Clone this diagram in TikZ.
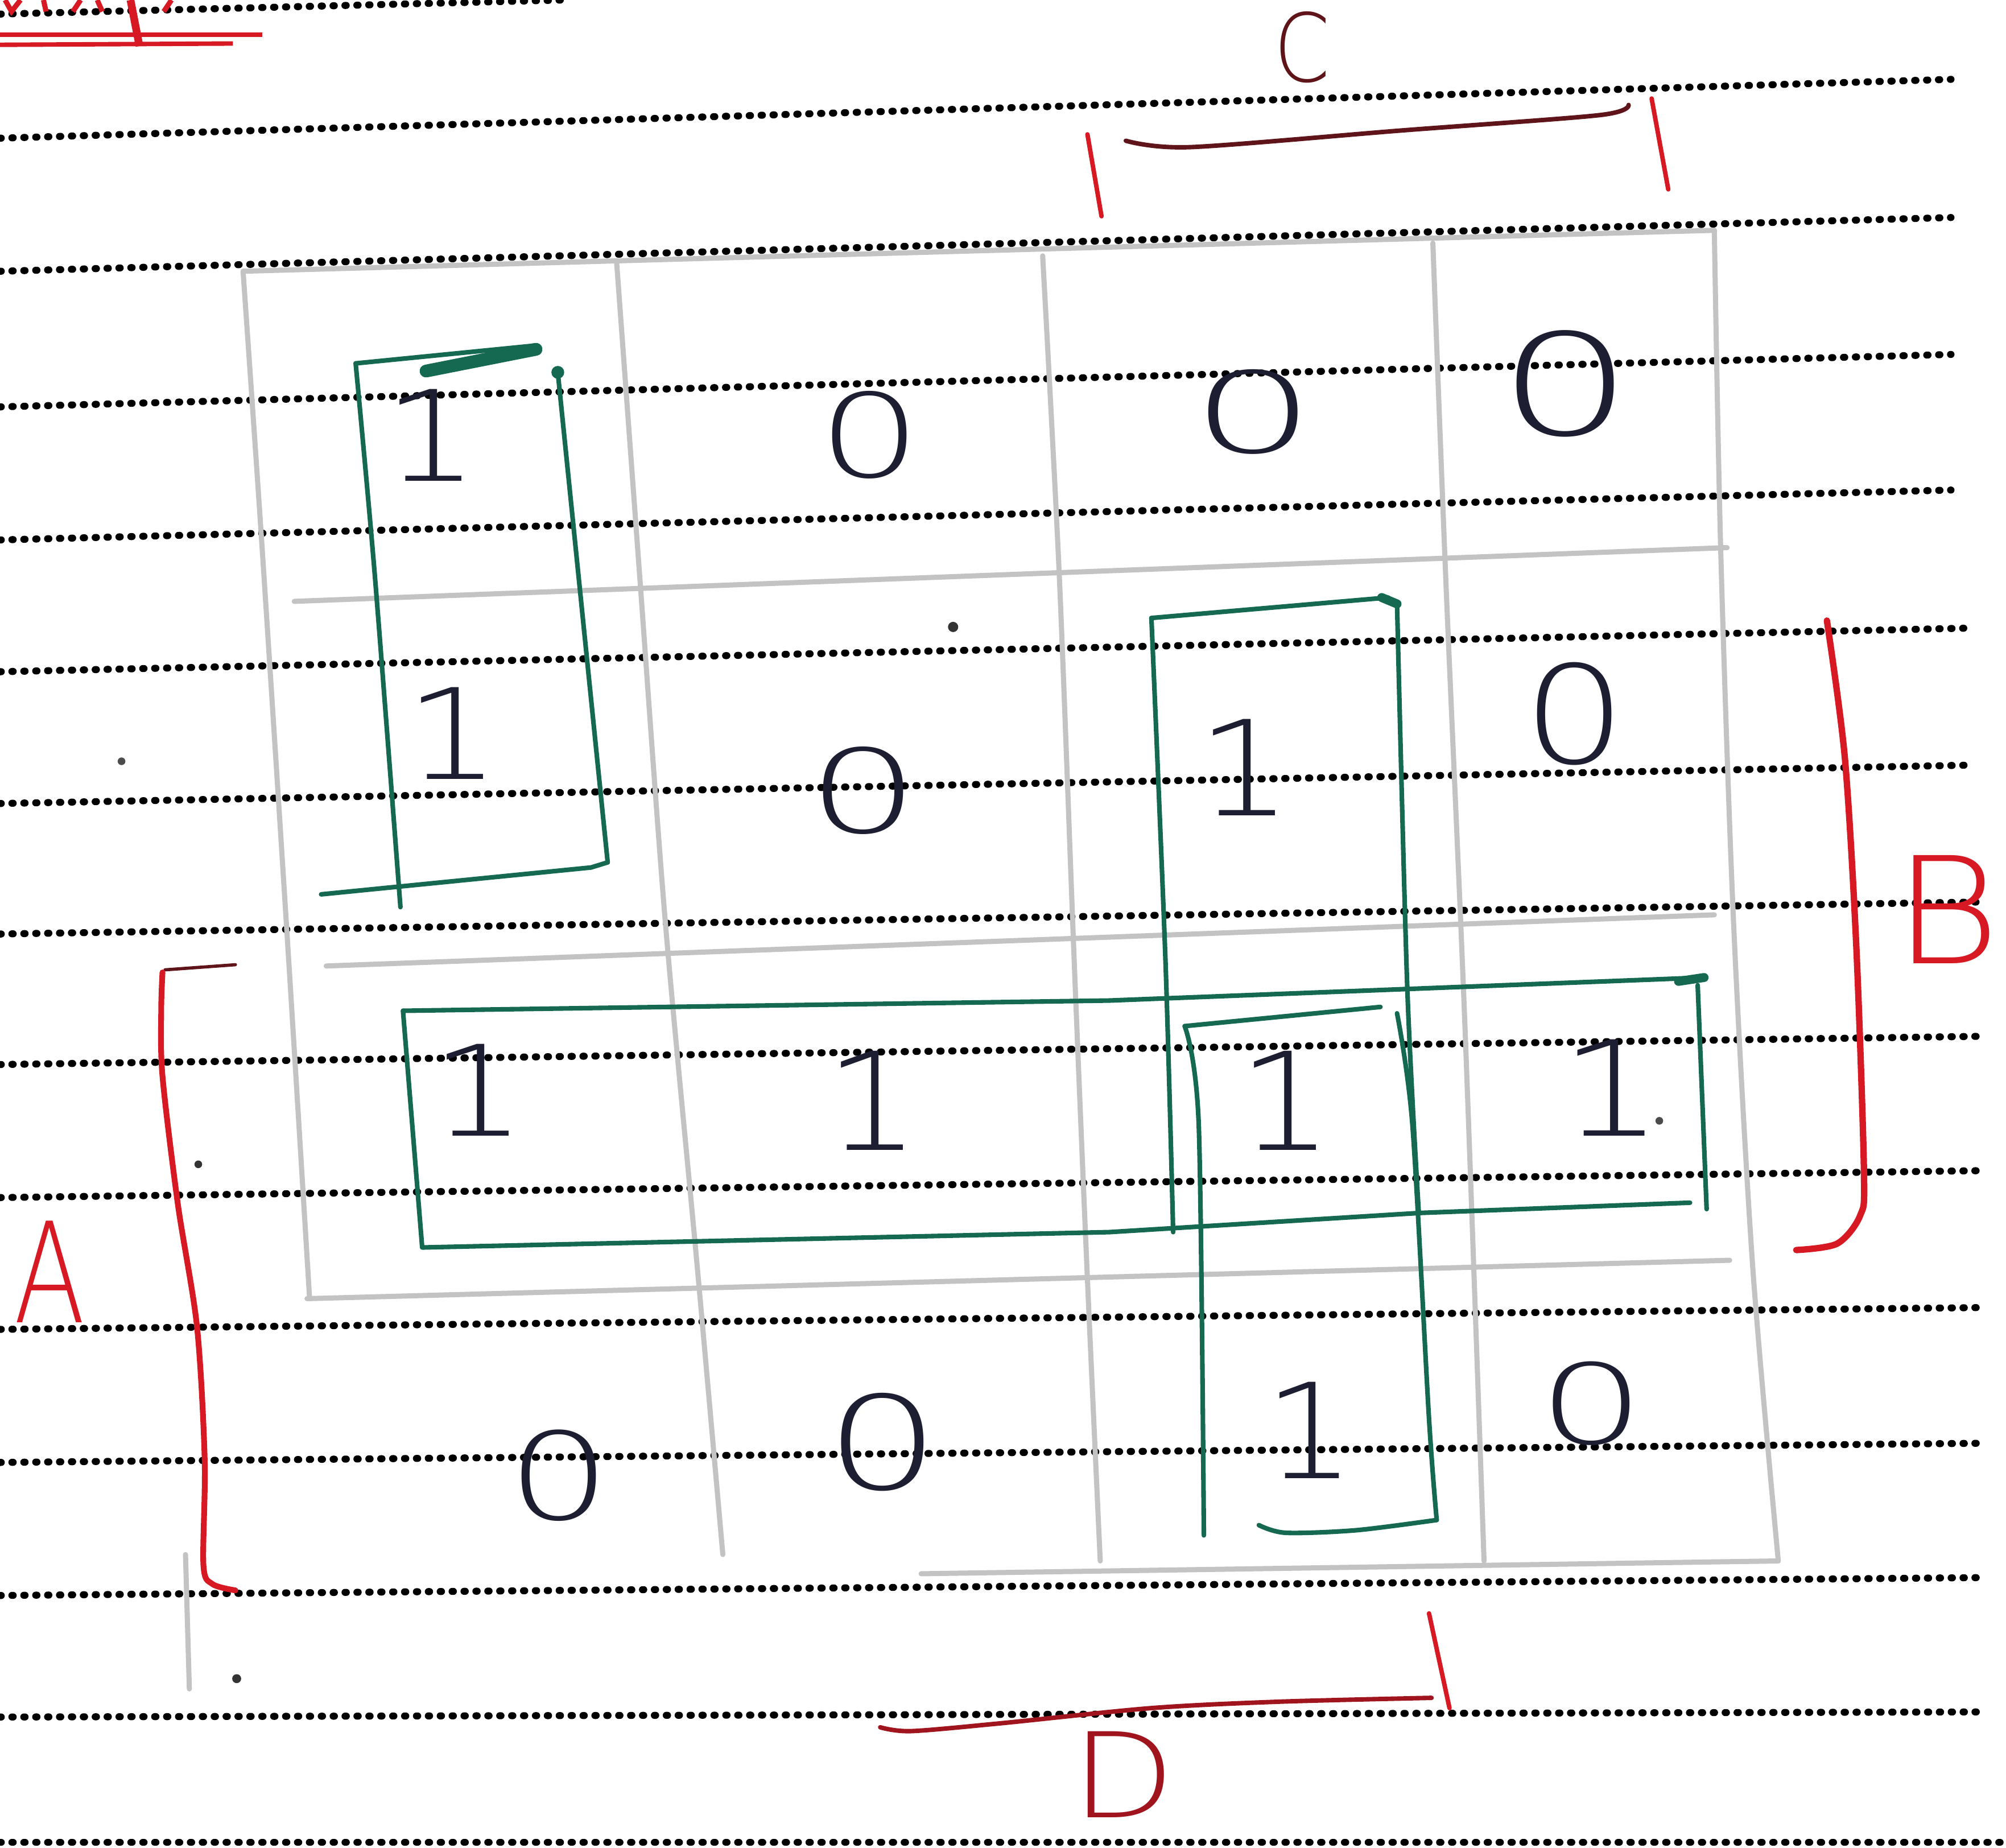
\documentclass[tikz,border=0pt]{standalone}
\usepackage{fontspec}
\usepackage{graphicx}
\IfFontExistsTF{DejaVu Sans ExtraLight}
  {\newfontfamily\handfont{DejaVu Sans ExtraLight}}
  {\newfontfamily\handfont{DejaVu Sans}}
\definecolor{ink}{RGB}{30,30,50}
\definecolor{boxgreen}{RGB}{20,105,80}
\definecolor{penred}{RGB}{215,25,35}
\definecolor{darkred}{RGB}{95,20,25}
\definecolor{midred}{RGB}{160,20,30}
\definecolor{pencil}{RGB}{195,195,195}
\begin{document}
\begin{tikzpicture}[x=0.1mm, y=-0.1mm,
  paperline/.style={line width=0.55mm, line cap=round, dash pattern=on 0.1mm off 0.83mm, black},
  pencilline/.style={line width=0.4mm, pencil, line cap=round},
  grouploop/.style={line width=0.36mm, boxgreen, line cap=round, line join=round},
  bracket/.style={line width=0.35mm, penred, line cap=round, line join=round},
  digit/.style={font={\handfont\fontsize{28}{30}\selectfont}, text=ink, inner sep=0pt},
  varlabel/.style={inner sep=0pt}
]
\fill[white] (0,0) rectangle (1568,1444);
\useasboundingbox (0,0) rectangle (1568,1444);
\clip (0,0) rectangle (1568,1444);

% ruled paper lines
\draw[paperline] (0,11) -- (440,0);
\foreach \yl/\xr/\yr in {108/1525/62, 212/1525/170, 318/1525/277, 422/1525/383,
  525/1535/491, 628/1540/598, 730/1545/705, 832/1545/810, 936/1545/915,
  1039/1545/1022, 1143/1550/1128, 1247/1550/1233, 1342/1550/1338, 1440/1568/1440}
  \draw[paperline] (0,\yl) -- (\xr,\yr);

% top-left red fragments
\draw[penred, line width=0.35mm] (0,27) -- (205,27);
\draw[penred, line width=0.35mm] (0,35) -- (182,34);
\draw[penred, line width=0.6mm] (102,0) -- (109,36);
\draw[penred, line width=0.4mm] (4,0) -- (9,9) -- (16,0);
\draw[penred, line width=0.4mm] (34,0) -- (36,9);
\draw[penred, line width=0.4mm] (57,9) -- (63,0);
\draw[penred, line width=0.4mm] (76,0) -- (80,9);
\draw[penred, line width=0.4mm] (128,9) -- (134,0);

% pencil grid of the map
\draw[pencilline] (190,212) -- (1340,180);
\draw[pencilline] (230,470) -- (1350,428);
\draw[pencilline] (255,755) -- (1340,715);
\draw[pencilline] (240,1015) -- (1352,985);
\draw[pencilline] (720,1230) -- (1390,1220);
\draw[pencilline] plot[smooth] coordinates {(190,212) (205,430) (225,740) (242,1015)};
\draw[pencilline] plot[smooth] coordinates {(482,205) (500,450) (520,720) (545,990) (565,1215)};
\draw[pencilline] plot[smooth] coordinates {(815,200) (828,450) (840,760) (850,1000) (860,1220)};
\draw[pencilline] plot[smooth] coordinates {(1120,190) (1130,450) (1145,800) (1160,1220)};
\draw[pencilline] plot[smooth] coordinates {(1340,180) (1345,430) (1355,720) (1370,990) (1390,1220)};
\draw[pencilline] (145,1215) -- (148,1320);

% stray pen marks
\fill[black!80] (745,490) circle (4);
\fill[black!80] (185,1312) circle (3.5);
\fill[black!80] (155,910) circle (3);
\fill[black!70] (95,595) circle (3);
\fill[black!70] (1297,876) circle (3);

% cell values
\node[digit] (r1c1) at (337,340) {\scalebox{1.2}[1]{1}};
\node[digit] (r1c2) at (680,340) {\scalebox{1.3}[0.92]{0}};
\node[digit] (r1c3) at (980,322) {\scalebox{1.56}[0.89]{0}};
\node[digit] (r1c4) at (1224,300) {\scalebox{1.7}[1.12]{0}};
\node[digit] (r2c1) at (354,573) {\scalebox{1.2}[1]{1}};
\node[digit] (r2c2) at (675,618) {\scalebox{1.4}[0.92]{0}};
\node[digit] (r2c3) at (973,600) {\scalebox{1.2}[1.05]{1}};
\node[digit] (r2c4) at (1231,558) {\scalebox{1.3}[1.08]{0}};
\node[digit] (r3c1) at (374,852) {\scalebox{1.2}[1]{1}};
\node[digit] (r3c2) at (682,860) {\scalebox{1.2}[1.08]{1}};
\node[digit] (r3c3) at (1005,860) {\scalebox{1.2}[1.08]{1}};
\node[digit] (r3c4) at (1260,850) {\scalebox{1.3}[1.05]{1}};
\node[digit] (r4c1) at (437,1153) {\scalebox{1.3}[0.96]{0}};
\node[digit] (r4c2) at (690,1127) {\scalebox{1.44}[1.03]{0}};
\node[digit] (r4c3) at (1024,1118) {\scalebox{1.15}[1.05]{1}};
\node[digit] (r4c4) at (1244,1097) {\scalebox{1.34}[0.88]{0}};

% green group loops
% loop 1 (column 1, rows 1-2)
\draw[grouploop] (278,284) -- (419,270);
\draw[grouploop, line width=1.0mm] (333,290) -- (419,273);
\draw[grouploop] plot[smooth] coordinates {(278,284) (293,450) (313,709)};
\draw[grouploop] (436,291) -- (475,674);
\fill[boxgreen] (436,291) circle (5);
\draw[grouploop] (251,699) -- (462,678) -- (475,674);
% loop 2 (column 3, rows 2-3)
\draw[grouploop] plot[smooth] coordinates {(917,963) (911,751) (900,483)};
\draw[grouploop] (900,483) -- (1085,467);
\draw[grouploop, line width=0.7mm] (1080,467) -- (1092,472);
\draw[grouploop] plot[smooth] coordinates {(1092,472) (1100,772) (1109,948)};
% loop 3 (row 3)
\draw[grouploop] (315,790) -- (867,782) -- (1332,764);
\draw[grouploop, line width=0.7mm] (1312,767) -- (1332,764);
\draw[grouploop] (1327,770) -- (1334,945);
\draw[grouploop] (315,790) -- (330,975) -- (867,963) -- (1110,948) -- (1321,940);
% loop 4 (column 3, rows 3-4)
\draw[grouploop] (926,802) -- (1079,787);
\draw[grouploop] plot[smooth] coordinates {(926,802) (937,879) (941,1200)};
\draw[grouploop] plot[smooth] coordinates {(1092,792) (1104,879) (1117,1109) (1123,1188)};
\draw[grouploop] plot[smooth] coordinates {(984,1192) (1005,1198) (1060,1196) (1123,1188)};

% variable brackets
% C
\draw[bracket] (850,105) -- (861,169);
\draw[bracket, darkred] plot[smooth] coordinates {(880,110) (930,115) (1095,102) (1250,90) (1273,82)};
\draw[bracket] (1291,77) -- (1304,148);
% B
\draw[bracket, line width=0.5mm] plot[smooth] coordinates {(1428,485) (1442,592) (1451,740) (1457,917) (1454,950) (1436,972) (1404,977)};
% A
\draw[line width=0.25mm, darkred, line cap=round] (184,754) -- (129,758);
\draw[bracket, line width=0.45mm] plot[smooth] coordinates {(127,760) (126,790) (127,841) (139,941) (154,1037) (160,1141) (159,1223) (166,1238) (184,1243)};
% D
\draw[bracket, midred] plot[smooth] coordinates {(688,1350) (712,1353) (781,1347) (900,1335) (1000,1330) (1119,1327)};
\draw[bracket] (1117,1261) -- (1133,1335);

% variable names
\node[varlabel, text=darkred, font={\handfont\fontsize{21}{23}\selectfont}] (labC) at (1018,37) {\scalebox{0.85}[1]{C}};
\node[varlabel, text=penred, font={\handfont\fontsize{33}{35}\selectfont}] (labB) at (1522,711) {\scalebox{1.1}[1]{B}};
\node[varlabel, text=penred, font={\handfont\fontsize{31}{33}\selectfont}] (labA) at (39,994) {\scalebox{0.75}[1]{A}};
\node[varlabel, text=midred, font={\handfont\fontsize{25}{27}\selectfont}] (labD) at (878,1387) {\scalebox{1.2}[1.05]{D}};
\end{tikzpicture}
\end{document}
